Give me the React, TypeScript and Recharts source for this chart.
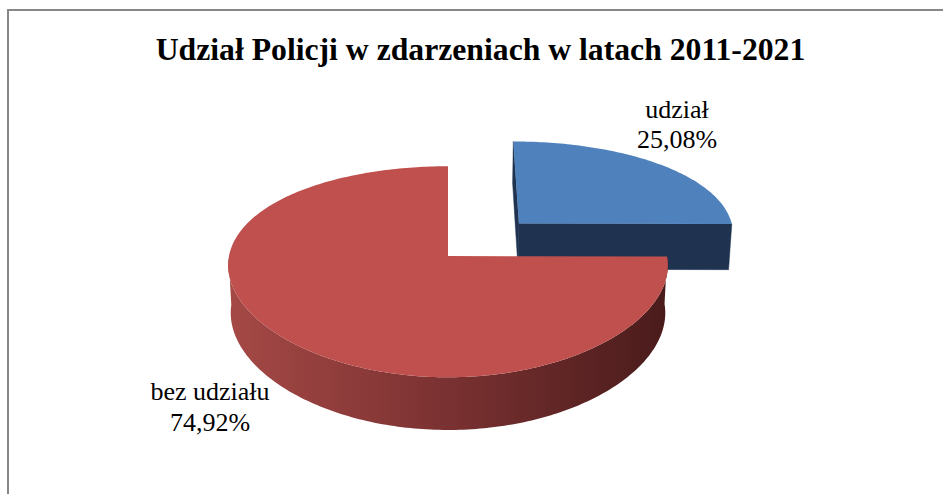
import React from 'react';
import { PieChart, Pie } from 'recharts';

const title = 'Udział Policji w zdarzeniach w latach 2011-2021';
const categories = ['udział', 'bez udziału'];
const values = [25.08, 74.92];
const valueLabels = ['25,08%', '74,92%'];
const explode = [0.47, 0];
const topColors = ['#4F81BD', '#C0504D'];
const faceColors = ['#1F3350', '#963E3B'];
const wallColors = [
  ['#3A6190', '#2A4770', '#1B2E48'],
  ['#A54946', '#7A3131', '#4A1B1B'],
];

const data = categories.map((name, i) => ({ name, value: values[i] }));

// simple perspective projection of a tilted disc (units of radius)
const TILT_SIN = 0.471;
const TILT_COS = 0.882;
const DIST_Y = 5.9;
const DIST_X = 10;
const DEPTH = 0.25;
const RAD = Math.PI / 180;
const SERIF = "'Liberation Serif', 'Times New Roman', Times, serif";

function project(cx: number, cy: number, R: number, X: number, Y: number, Z: number): [number, number] {
  const u = Y * TILT_COS + Z * TILT_SIN;
  const w = Z * TILT_COS - Y * TILT_SIN;
  const ky = DIST_Y / (DIST_Y + w);
  const kx = DIST_X / (DIST_X + w);
  return [cx + R * X * kx, cy - R * u * ky];
}

const toPts = (arr: [number, number][]) => arr.map((p) => `${p[0].toFixed(2)},${p[1].toFixed(2)}`).join(' ');

const renderSlice = (props: any) => {
  const { cx, cy, outerRadius, startAngle, endAngle, index } = props;
  const R = outerRadius;
  const mid = (startAngle + endAngle) / 2;
  const e = explode[index] || 0;
  const ox = e * Math.cos(mid * RAD);
  const oz = e * Math.sin(mid * RAD);
  const P = (X: number, Y: number, Z: number) => project(cx, cy, R, X + ox, Y, Z + oz);
  const rim = (a: number, Y: number) => P(Math.cos(a * RAD), Y, Math.sin(a * RAD));
  const n = Math.max(2, Math.ceil(Math.abs(endAngle - startAngle)));
  const angles: number[] = [];
  for (let i = 0; i <= n; i++) angles.push(startAngle + ((endAngle - startAngle) * i) / n);

  const top = [P(0, 0, 0), ...angles.map((a) => rim(a, 0))];
  const front = angles.filter((a) => Math.sin(a * RAD) <= 0.001);
  const wall =
    front.length > 2
      ? [...front.map((a) => rim(a, 0)), ...front.slice().reverse().map((a) => rim(a, -DEPTH))]
      : null;

  // radial faces with a visibility test
  const camZ = -DIST_Y * TILT_COS;
  const faces: [number, number][][] = [];
  const faceVisible = (nx: number, nz: number) => -ox * nx + (camZ - oz) * nz > 0.01;
  const dirSign = endAngle < startAngle ? 1 : -1;
  const nsx = -Math.sin(startAngle * RAD) * dirSign;
  const nsz = Math.cos(startAngle * RAD) * dirSign;
  if (faceVisible(nsx, nsz)) faces.push([P(0, 0, 0), rim(startAngle, 0), rim(startAngle, -DEPTH), P(0, -DEPTH, 0)]);
  const nex = Math.sin(endAngle * RAD) * dirSign;
  const nez = -Math.cos(endAngle * RAD) * dirSign;
  if (faceVisible(nex, nez)) faces.push([P(0, 0, 0), rim(endAngle, 0), rim(endAngle, -DEPTH), P(0, -DEPTH, 0)]);

  // label placement outside the slice
  const cosM = Math.cos(mid * RAD);
  const anchor = rim(mid, Math.sin(mid * RAD) < 0 ? -DEPTH : 0);
  const off = cosM >= 0 ? [20, -45.5] : [-74.5, 11.7];
  const lx = anchor[0] + off[0];
  const ly = anchor[1] + off[1];
  const gid = `wallGrad${index}`;
  const wc = wallColors[index];

  return (
    <g key={`slice-${index}`}>
      <defs>
        <linearGradient id={gid} x1="0" y1="0" x2="1" y2="0">
          <stop offset="0" stopColor={wc[0]} />
          <stop offset="0.5" stopColor={wc[1]} />
          <stop offset="1" stopColor={wc[2]} />
        </linearGradient>
      </defs>
      {wall && <polygon points={toPts(wall)} fill={`url(#${gid})`} stroke="none" />}
      {faces.map((f, i) => (
        <polygon key={i} points={toPts(f)} fill={faceColors[index]} stroke={faceColors[index]} strokeWidth={0.5} />
      ))}
      <polygon points={toPts(top)} fill={topColors[index]} stroke="none" />
      <text x={lx} y={ly} textAnchor="middle" style={{ fontFamily: SERIF, fontSize: 26 }} fill="#000">
        <tspan x={lx} y={ly}>{categories[index]}</tspan>
        <tspan x={lx} y={ly + 30.5}>{valueLabels[index]}</tspan>
      </text>
    </g>
  );
};

export default function App() {
  return (
    <div
      style={{
        position: 'fixed',
        left: 0,
        top: 0,
        width: 943,
        height: 494,
        overflow: 'hidden',
        background: '#fff',
      }}
    >
      <div
        style={{
          position: 'absolute',
          left: 7,
          top: 9,
          width: 1000,
          height: 600,
          border: '2px solid #878787',
          boxSizing: 'border-box',
        }}
      />
      <div style={{ position: 'absolute', left: 0, top: 0 }}>
        <PieChart width={943} height={494}>
          <Pie
            data={data}
            dataKey="value"
            nameKey="name"
            cx={443}
            cy={251}
            outerRadius={219}
            startAngle={90}
            endAngle={-270}
            fill="none"
            stroke="none"
            label={renderSlice}
            labelLine={false}
            isAnimationActive={false}
          />
        </PieChart>
      </div>
      <svg width={943} height={90} style={{ position: 'absolute', left: 0, top: 0 }}>
        <text
          x={480.5}
          y={60}
          textAnchor="middle"
          style={{ fontFamily: SERIF, fontWeight: 'bold', fontSize: 31.7 }}
          fill="#000"
        >
          {title}
        </text>
      </svg>
    </div>
  );
}
